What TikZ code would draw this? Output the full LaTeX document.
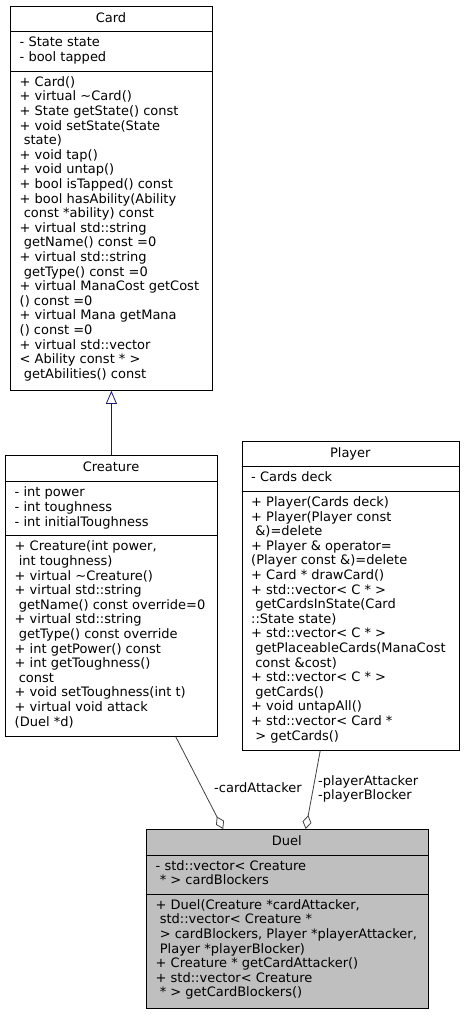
\documentclass[tikz,border=0pt]{standalone}
\usepackage{fontspec}
\setmainfont{DejaVu Sans}
\usetikzlibrary{arrows.meta}
\definecolor{edgegray}{HTML}{404040}
\definecolor{inhblue}{HTML}{191970}
\definecolor{duelfill}{HTML}{BFBFBF}
\newcommand\umlfont{\fontsize{13}{14.6}\selectfont}
\newcommand\ind{\hspace*{0.318em}}
\newcommand\umllines[4]{%
  \foreach \t [count=\i] in {#4} {\node[txt] (#1\i) at (#2, {#3+(\i-1)*14.6}) {\t};}%
}
\tikzset{
  umlbox/.style={draw=black, line width=0.8pt, inner sep=0pt, anchor=north west},
  sepline/.style={draw=black, line width=0.8pt},
  txt/.style={inner sep=0pt, anchor=base west, font=\umlfont},
  ttl/.style={inner sep=0pt, anchor=base, font=\umlfont},
  inh/.style={draw=inhblue, line width=0.8pt, -{Triangle[open, length=13pt, width=11pt]}},
  agg/.style={draw=edgegray, line width=0.8pt, -{Diamond[open, length=14pt, width=9pt]}},
  lbl/.style={inner sep=0pt, anchor=base west, font=\umlfont},
}
\begin{document}
\begin{tikzpicture}[x=1pt, y=-1pt]
\useasboundingbox (0,0) rectangle (464,1015);
% ---------- Card ----------
\node[umlbox, minimum width=202pt, minimum height=384.5pt] (card) at (10,5.5) {};
\draw[sepline] ([yshift=-26pt]card.north west) -- ([yshift=-26pt]card.north east);
\draw[sepline] ([yshift=-65.5pt]card.north west) -- ([yshift=-65.5pt]card.north east);
\node[ttl] (cardt) at (111,22) {Card};
\umllines{carda}{19.5}{46.7}{{- State state},{- bool tapped}}
\umllines{cardm}{19.5}{86.3}{{+ Card()},{+ virtual \textasciitilde Card()},{+ State getState() const},{+ void setState(State},{\ind state)},{+ void tap()},{+ void untap()},{+ bool isTapped() const},{+ bool hasAbility(Ability},{\ind const *ability) const},{+ virtual std::string},{\ind getName() const =0},{+ virtual std::string},{\ind getType() const =0},{+ virtual ManaCost getCost},{() const =0},{+ virtual Mana getMana},{() const =0},{+ virtual std::vector},{< Ability const * >},{\ind getAbilities() const}}
% ---------- Creature ----------
\node[umlbox, minimum width=212pt, minimum height=281pt] (creature) at (5,455) {};
\draw[sepline] ([yshift=-26pt]creature.north west) -- ([yshift=-26pt]creature.north east);
\draw[sepline] ([yshift=-80pt]creature.north west) -- ([yshift=-80pt]creature.north east);
\node[ttl] (creaturet) at (111,471) {Creature};
\umllines{crea}{14.5}{496.8}{{- int power},{- int toughness},{- int initialToughness}}
\umllines{crem}{14.5}{550.8}{{+ Creature(int power,},{\ind int toughness)},{+ virtual \textasciitilde Creature()},{+ virtual std::string},{\ind getName() const override=0},{+ virtual std::string},{\ind getType() const override},{+ int getPower() const},{+ int getToughness()},{\ind const},{+ void setToughness(int t)},{+ virtual void attack},{(Duel *d)}}
% ---------- Player ----------
\node[umlbox, minimum width=217.3pt, minimum height=309pt] (player) at (241.7,441) {};
\draw[sepline] ([yshift=-25pt]player.north west) -- ([yshift=-25pt]player.north east);
\draw[sepline] ([yshift=-50pt]player.north west) -- ([yshift=-50pt]player.north east);
\node[ttl] (playert) at (350.3,457.5) {Player};
\umllines{plaa}{251}{481.5}{{- Cards deck}}
\umllines{plam}{251}{506.5}{{+ Player(Cards deck)},{+ Player(Player const},{\ind \&)=delete},{+ Player \& operator=},{(Player const \&)=delete},{+ Card * drawCard()},{+ std::vector< C * >},{\ind getCardsInState(Card},{::State state)},{+ std::vector< C * >},{\ind getPlaceableCards(ManaCost},{\ind const \&cost)},{+ std::vector< C * >},{\ind getCards()},{+ void untapAll()},{+ std::vector< Card *},{\ind > getCards()}}
% ---------- Duel ----------
\node[umlbox, fill=duelfill, minimum width=282.3pt, minimum height=179pt] (duel) at (145.7,829) {};
\draw[sepline] ([yshift=-26pt]duel.north west) -- ([yshift=-26pt]duel.north east);
\draw[sepline] ([yshift=-65pt]duel.north west) -- ([yshift=-65pt]duel.north east);
\node[ttl] (duelt) at (286.8,845.5) {Duel};
\umllines{duea}{155.5}{870.3}{{- std::vector< Creature},{\ind * > cardBlockers}}
\umllines{duem}{155.5}{909.3}{{+ Duel(Creature *cardAttacker,},{\ind std::vector< Creature *},{\ind > cardBlockers, Player *playerAttacker,},{\ind Player *playerBlocker)},{+ Creature * getCardAttacker()},{+ std::vector< Creature},{\ind * > getCardBlockers()}}
% ---------- connectors ----------
\draw[inh] (creature.north) -- (card.south);
\draw[agg] ([xshift=-42pt]creature.south east) -- ([xshift=77.5pt]duel.north west);
\draw[agg] ([xshift=78.5pt]player.south west) -- ([xshift=160pt]duel.north west);
\node[lbl] (lblca) at (214,792.5) {-cardAttacker};
\node[lbl] (lblpa) at (318,785) {-playerAttacker};
\node[lbl] (lblpb) at (318,799.6) {-playerBlocker};
\end{tikzpicture}
\end{document}
